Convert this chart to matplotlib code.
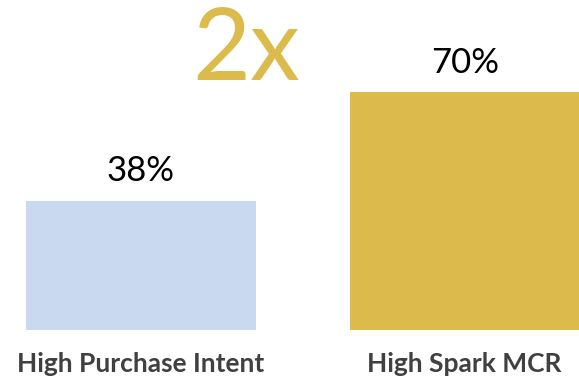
import matplotlib

matplotlib.use("Agg")

import matplotlib.pyplot as plt

# Chart data
categories = ["High Purchase Intent", "High Spark MCR"]
values = [38, 70]
value_labels = ["38%", "70%"]
multiplier_label = "2x"

BAR_COLORS = ["#C9DAF0", "#DCBB4C"]
LABEL_COLOR = "#404040"

fig = plt.figure(figsize=(5.79, 3.79), dpi=100)
ax = fig.add_axes([0, 49 / 379, 1, 330 / 379])

x = list(range(len(categories)))
ax.bar(x, values, width=0.71, color=BAR_COLORS)
ax.set_xlim(-0.434, 1.353)
ax.set_ylim(0, 97.06)
ax.axis("off")

for xi, v, lab in zip(x, values, value_labels):
    ax.text(xi, v + 5.7, lab, ha="center", va="baseline", fontsize=25,
            family="Lato", color="black")

for xi, cat in zip(x, categories):
    ax.text(xi, -12.35, cat, ha="center", va="baseline", fontsize=19,
            family="Lato", fontweight="bold", color=LABEL_COLOR)

fig.text(246 / 579, 1 - 80 / 379, multiplier_label, ha="center",
         va="baseline", fontsize=72, family="Lato", color=BAR_COLORS[1])

fig.savefig("out.png", dpi=100)
